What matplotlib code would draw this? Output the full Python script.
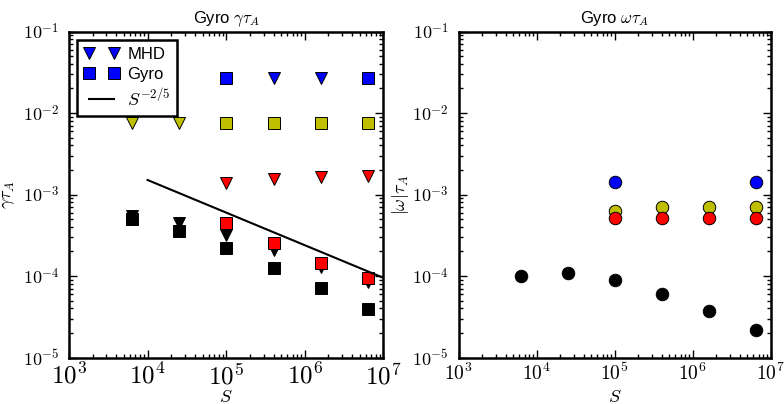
import matplotlib
matplotlib.use("Agg")
import matplotlib.pyplot as plt
from matplotlib.ticker import FuncFormatter, LogLocator
import numpy as np

plt.rcParams['mathtext.fontset'] = 'cm'
plt.rcParams['font.family'] = ['Liberation Sans', 'DejaVu Sans']

# Lundquist numbers of the runs
S_all = [6.25e3, 2.5e4, 1e5, 4e5, 1.6e6, 6.4e6]

# growth rates, gamma*tau_A
mhd_blue_S = [4e5, 1.6e6]
mhd_blue = [0.027, 0.027]
gyro_blue_S = [1e5, 6.4e6]
gyro_blue = [0.0266, 0.0266]

mhd_yel_S = [6.25e3, 2.5e4]
mhd_yel = [0.0075, 0.0075]
gyro_yel_S = [1e5, 4e5, 1.6e6, 6.4e6]
gyro_yel = [0.0075, 0.0075, 0.0075, 0.0075]

mhd_red_S = [1e5, 4e5, 1.6e6, 6.4e6]
mhd_red = [1.38e-3, 1.55e-3, 1.62e-3, 1.7e-3]
gyro_red_S = [1e5, 4e5, 1.6e6, 6.4e6]
gyro_red = [4.5e-4, 2.57e-4, 1.44e-4, 9.5e-5]

mhd_blk = [5.4e-4, 4.5e-4, 3.2e-4, 2.1e-4, 1.3e-4, 8.5e-5]
gyro_blk = [5.0e-4, 3.55e-4, 2.2e-4, 1.27e-4, 7.1e-5, 3.9e-5]

# frequencies, |omega|*tau_A
om_blue_S = [1e5, 6.4e6]
om_blue = [1.44e-3, 1.44e-3]
om_yel_S = [1e5, 4e5, 1.6e6, 6.4e6]
om_yel = [6.3e-4, 6.97e-4, 7.1e-4, 7.1e-4]
om_red_S = [1e5, 4e5, 1.6e6, 6.4e6]
om_red = [5.1e-4, 5.1e-4, 5.1e-4, 5.1e-4]
om_blk = [1.0e-4, 1.1e-4, 8.9e-5, 6.0e-5, 3.7e-5, 2.15e-5]

# scaling line
fit_S = np.logspace(4, 7, 50)
fit_coef = 0.06

yel = (0.75, 0.75, 0)
ms = 9
mew = 0.7

pow10 = FuncFormatter(lambda v, pos: r'$10^{%d}$' % round(np.log10(v)))

fig = plt.figure(figsize=(7.84, 4.04), dpi=100)
ax1 = fig.add_axes([0.088, 0.115, 0.401, 0.807])
ax2 = fig.add_axes([0.585, 0.115, 0.398, 0.807])

kw = dict(ls='none', ms=ms, mec='k', mew=mew)
ax1.plot(mhd_blue_S, mhd_blue, 'v', color='b', label='MHD', **kw)
ax1.plot(gyro_blue_S, gyro_blue, 's', color='b', label='Gyro', **kw)
ax1.plot(mhd_yel_S, mhd_yel, 'v', color=yel, **kw)
ax1.plot(gyro_yel_S, gyro_yel, 's', color=yel, **kw)
ax1.plot(mhd_red_S, mhd_red, 'v', color='r', **kw)
ax1.plot(S_all, mhd_blk, 'v', color='k', **kw)
ax1.plot(gyro_red_S, gyro_red, 's', color='r', **kw)
ax1.plot(S_all, gyro_blk, 's', color='k', **kw)
ax1.plot(fit_S, fit_coef * fit_S**(-2. / 5), 'k-', lw=1.5, label=r'$S^{-2/5}$')

ax2.plot(om_blue_S, om_blue, 'o', color='b', **kw)
ax2.plot(om_yel_S, om_yel, 'o', color=yel, **kw)
ax2.plot(om_red_S, om_red, 'o', color='r', **kw)
ax2.plot(S_all, om_blk, 'o', color='k', **kw)

for ax in (ax1, ax2):
    ax.set_xscale('log')
    ax.set_yscale('log')
    ax.set_xlim(1e3, 1e7)
    ax.set_ylim(1e-5, 1e-1)
    ax.set_xticks([1e3, 1e4, 1e5, 1e6, 1e7])
    ax.set_yticks([1e-5, 1e-4, 1e-3, 1e-2, 1e-1])
    ax.xaxis.set_minor_locator(LogLocator(subs=np.arange(2, 10), numticks=20))
    ax.yaxis.set_minor_locator(LogLocator(subs=np.arange(2, 10), numticks=20))
    ax.xaxis.set_major_formatter(pow10)
    ax.yaxis.set_major_formatter(pow10)
    for sp in ax.spines.values():
        sp.set_linewidth(1.8)
    ax.tick_params(which='both', direction='in', top=True, right=True, width=1)
    ax.tick_params(which='major', length=6)
    ax.tick_params(which='minor', length=3)
    ax.tick_params(axis='y', labelsize=13, pad=7)
    ax.set_xlabel(r'$S$', fontsize=13)
    ax.xaxis.set_label_coords(0.5, -0.095)

ax1.tick_params(axis='x', labelsize=18, pad=4)
ax2.tick_params(axis='x', labelsize=14, pad=4)

ax1.set_ylabel(r'$\gamma\tau_A$', fontsize=13)
ax2.set_ylabel(r'$|\omega|\tau_A$', fontsize=13, labelpad=1)
ax1.set_title(r'Gyro $\gamma\tau_A$', fontsize=12)
ax2.set_title(r'Gyro $\omega\tau_A$', fontsize=12)

leg = ax1.legend(loc='upper left', numpoints=2, fontsize=12, fancybox=False,
                 framealpha=1, borderaxespad=0.5, handlelength=2.1,
                 handletextpad=0.5, labelspacing=0.3, borderpad=0.4)
leg.get_frame().set_edgecolor('k')
leg.get_frame().set_linewidth(1.8)
leg.get_texts()[2].set_fontsize(13)

fig.savefig('out.png', dpi=100)
